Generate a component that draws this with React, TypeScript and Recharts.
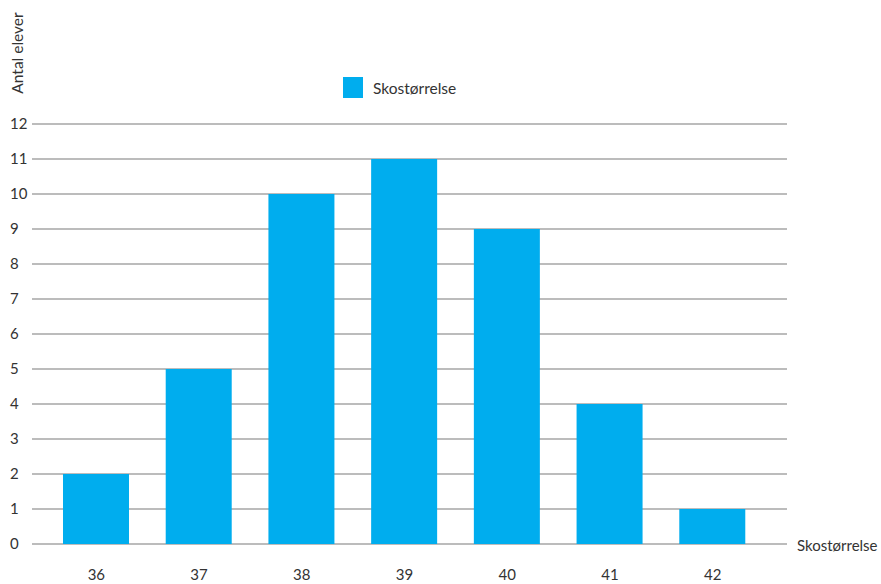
import React from 'react';
import { BarChart, Bar, XAxis, YAxis, CartesianGrid, Legend, Label } from 'recharts';

const sizes = ['36', '37', '38', '39', '40', '41', '42'];
const counts = [2, 5, 10, 11, 9, 4, 1];
const yTicks = [0, 1, 2, 3, 4, 5, 6, 7, 8, 9, 10, 11, 12];
const seriesName = 'Skostørrelse';
const xTitle = 'Skostørrelse';
const yTitle = 'Antal elever';

const data = sizes.map((s, i) => ({ size: s, count: counts[i] }));

const FONT = 'Lato, "Open Sans", sans-serif';
const TEXT = '#333333';
const BLUE = '#00ADEE';

const XTick = (props: any) => {
  const { x, y, payload } = props;
  return (
    <text x={x} y={y + 36} textAnchor="middle" fill={TEXT} fontSize={15} fontFamily={FONT}>
      {payload.value}
    </text>
  );
};

const YTick = (props: any) => {
  const { y, payload } = props;
  return (
    <text x={10} y={y + 5} textAnchor="start" fill={TEXT} fontSize={15} fontFamily={FONT}>
      {payload.value}
    </text>
  );
};

const LegendContent = () => (
  <div style={{ display: 'flex', alignItems: 'center', fontFamily: FONT, fontSize: 15.5, color: TEXT }}>
    <span style={{ display: 'inline-block', width: 20, height: 21, background: BLUE, marginRight: 10 }} />
    <span>{seriesName}</span>
  </div>
);

const YTitle = () => {
  const cy = 53;
  const cx = 23;
  return (
    <text
      x={cx}
      y={cy}
      transform={`rotate(-90, ${cx}, ${cy})`}
      textAnchor="middle"
      fill={TEXT}
      fontSize={15.5}
      fontFamily={FONT}
    >
      {yTitle}
    </text>
  );
};

export default function App() {
  return (
    <div style={{ position: 'absolute', left: 0, top: 0, background: '#fff' }}>
      <BarChart
        width={881}
        height={584}
        data={data}
        margin={{ top: 124, right: 94, bottom: 0, left: 0 }}
        barSize={66}
      >
        <CartesianGrid horizontal vertical={false} stroke="#7a7a7a" strokeWidth={1.2} />
        <XAxis
          dataKey="size"
          axisLine={false}
          tickLine={false}
          tickSize={0}
          tickMargin={0}
          tick={<XTick />}
          padding={{ left: 13, right: 23 }}
          interval={0}
          height={40}
        >
          <Label
            value={xTitle}
            position="right"
            offset={10}
            dy={-18}
            fill={TEXT}
            fontSize={15}
            fontFamily={FONT}
          />
        </XAxis>
        <YAxis
          width={32}
          domain={[0, 12]}
          ticks={yTicks}
          interval={0}
          axisLine={false}
          tickLine={false}
          tick={<YTick />}
        >
          <Label content={<YTitle />} />
        </YAxis>
        <Legend
          layout="horizontal"
          verticalAlign="middle"
          align="center"
          wrapperStyle={{ top: 77, left: 343, width: 'auto' }}
          content={<LegendContent />}
        />
        <Bar dataKey="count" name={seriesName} fill={BLUE} isAnimationActive={false} />
      </BarChart>
    </div>
  );
}
